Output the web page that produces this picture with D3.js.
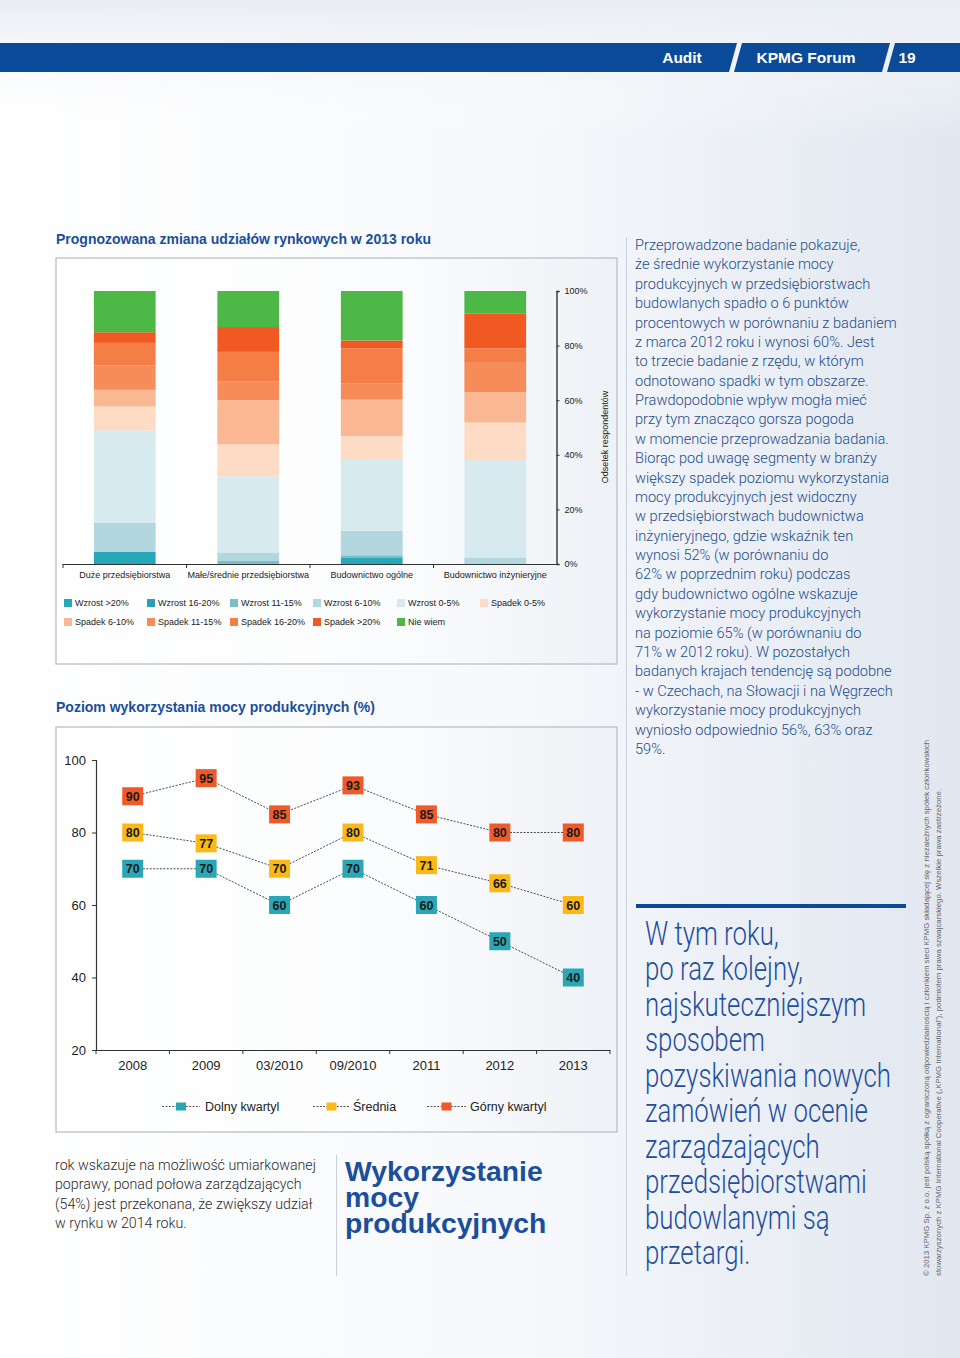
<!DOCTYPE html>
<html><head><meta charset="utf-8">
<script src="https://cdn.jsdelivr.net/npm/d3@7"></script>
<style>html,body{margin:0;padding:0;background:#fff}svg{display:block}</style>
</head><body>
<svg id="page" width="960" height="1358"></svg>
<script>
// ---------- DATA ----------
const barCategories = ["Duże przedsiębiorstwa","Małe/średnie przedsiębiorstwa","Budownictwo ogólne","Budownictwo inżynieryjne"];
const barKeys = ["Wzrost >20%","Wzrost 16-20%","Wzrost 11-15%","Wzrost 6-10%","Wzrost 0-5%","Spadek 0-5%","Spadek 6-10%","Spadek 11-15%","Spadek 16-20%","Spadek >20%","Nie wiem"];
const barLegendLabels = ["Wzrost >20%","Wzrost 16-20%","Wzrost 11-15%","Wzrost 6-10%","Wzrost 0-5%","Spadek 0-5%","Spadek 6-10%","Spadek 11-15%","Spadek 16-20%","Spadek >20%","Nie wiem"];
const wzrost20   = [4.4, 0,    2.2, 0];
const wzrost1620 = [0,   0,    0,   0];
const wzrost1115 = [0,   1.3,  1.0, 0];
const wzrost610  = [10.8,2.9,  9.0, 2.4];
const wzrost05   = [33.7,27.9, 25.9,35.6];
const spadek05   = [8.8, 11.7, 8.8, 13.8];
const spadek610  = [6.1, 16.2, 13.3,11.2];
const spadek1115 = [8.9, 6.8,  6.0, 11.0];
const spadek1620 = [8.3, 10.9, 12.8,5.0];
const spadek20   = [3.9, 9.1,  2.9, 12.8];
const nieWiem    = [15.1,13.2, 18.1,8.2];
const barSeries = [wzrost20,wzrost1620,wzrost1115,wzrost610,wzrost05,spadek05,spadek610,spadek1115,spadek1620,spadek20,nieWiem];
const barColors = ["#27a7b8","#2c9fb6","#7dbdcb","#b2d7de","#d7eaef","#fddbc5","#f9b893","#f58c59","#f47e45","#f05a22","#4db848"];
const pctTicks = [0,20,40,60,80,100];

const years = ["2008","2009","03/2010","09/2010","2011","2012","2013"];
const gorny  = [90,95,85,93,85,80,80];
const srednia= [80,77,70,80,71,66,60];
const dolny  = [70,70,60,70,60,50,40];
const lineNames = ["Dolny kwartyl","Średnia","Górny kwartyl"];
const lineColors = ["#29a7b7","#fbb918","#f05a28"];
const yTicks = [20,40,60,80,100];

const bodyLines = ["Przeprowadzone badanie pokazuje,","że średnie wykorzystanie mocy","produkcyjnych w przedsiębiorstwach","budowlanych spadło o 6 punktów","procentowych w porównaniu z badaniem","z marca 2012 roku i wynosi 60%. Jest","to trzecie badanie z rzędu, w którym","odnotowano spadki w tym obszarze.","Prawdopodobnie wpływ mogła mieć","przy tym znacząco gorsza pogoda","w momencie przeprowadzania badania.","Biorąc pod uwagę segmenty w branży","większy spadek poziomu wykorzystania","mocy produkcyjnych jest widoczny","w przedsiębiorstwach budownictwa","inżynieryjnego, gdzie wskaźnik ten","wynosi 52% (w porównaniu do","62% w poprzednim roku) podczas","gdy budownictwo ogólne wskazuje","wykorzystanie mocy produkcyjnych","na poziomie 65% (w porównaniu do","71% w 2012 roku). W pozostałych","badanych krajach tendencję są podobne","- w Czechach, na Słowacji i na Węgrzech","wykorzystanie mocy produkcyjnych","wyniosło odpowiednio 56%, 63% oraz","59%."];
const quoteLines = ["W tym roku,","po raz kolejny,","najskuteczniejszym","sposobem","pozyskiwania nowych","zamówień w ocenie","zarządzających","przedsiębiorstwami","budowlanymi są","przetargi."];
const leftLines = ["rok wskazuje na możliwość umiarkowanej","poprawy, ponad połowa zarządzających","(54%) jest przekonana, że zwiększy udział","w rynku w 2014 roku."];
const headLines = ["Wykorzystanie","mocy","produkcyjnych"];
const copyLines = ["© 2013 KPMG Sp. z o.o. jest polską spółką z ograniczoną odpowiedzialnością i członkiem sieci KPMG składającej się z niezależnych spółek członkowskich","stowarzyszonych z KPMG International Cooperative („KPMG International”), podmiotem prawa szwajcarskiego. Wszelkie prawa zastrzeżone."];

// ---------- PAGE ----------
const svg = d3.select("#page");
const defs = svg.append("defs");
const pg = defs.append("linearGradient").attr("id","pg").attr("x1","0").attr("y1","0").attr("x2","1").attr("y2","0");
pg.append("stop").attr("offset","0").attr("stop-color","#ffffff");
pg.append("stop").attr("offset","0.55").attr("stop-color","#f6f8fb");
pg.append("stop").attr("offset","1").attr("stop-color","#e1e7f0");
const bg = defs.append("linearGradient").attr("id","bx").attr("x1","0").attr("y1","0").attr("x2","1").attr("y2","0");
bg.append("stop").attr("offset","0").attr("stop-color","#ffffff");
bg.append("stop").attr("offset","0.6").attr("stop-color","#fbfcfd");
bg.append("stop").attr("offset","1").attr("stop-color","#eef1f6");
const tg = defs.append("linearGradient").attr("id","tg").attr("x1","0").attr("y1","0").attr("x2","0").attr("y2","1");
tg.append("stop").attr("offset","0").attr("stop-color","#e9edf4").attr("stop-opacity",1);
tg.append("stop").attr("offset","1").attr("stop-color","#ffffff").attr("stop-opacity",0);

svg.append("rect").attr("width",960).attr("height",1358).attr("fill","url(#pg)");
svg.append("rect").attr("width",960).attr("height",140).attr("fill","url(#tg)");

// header band
const hb = "#0b4a98";
svg.append("path").attr("d","M0,43 L737,43 L729,72 L0,72 Z").attr("fill",hb);
svg.append("path").attr("d","M742,43 L890,43 L882,72 L734,72 Z").attr("fill",hb);
svg.append("path").attr("d","M895,43 L960,43 L960,72 L887,72 Z").attr("fill",hb);
const hf = "'Liberation Sans',Arial,sans-serif";
svg.append("text").attr("x",682).attr("y",63).attr("text-anchor","middle").attr("fill","#fff").attr("font-family",hf).attr("font-weight","bold").attr("font-size",15.5).text("Audit");
svg.append("text").attr("x",806).attr("y",63).attr("text-anchor","middle").attr("fill","#fff").attr("font-family",hf).attr("font-weight","bold").attr("font-size",15.5).text("KPMG Forum");
svg.append("text").attr("x",907).attr("y",63).attr("text-anchor","middle").attr("fill","#fff").attr("font-family",hf).attr("font-weight","bold").attr("font-size",15.5).text("19");

const titleBlue = "#1b4f9b";
const cf = "'Liberation Sans',Arial,Helvetica,sans-serif";
svg.append("text").attr("x",56).attr("y",244).attr("fill",titleBlue).attr("font-family",cf).attr("font-weight","bold").attr("font-size",14).text("Prognozowana zmiana udziałów rynkowych w 2013 roku");
svg.append("text").attr("x",56).attr("y",712).attr("fill",titleBlue).attr("font-family",cf).attr("font-weight","bold").attr("font-size",14).text("Poziom wykorzystania mocy produkcyjnych (%)");

// ---------- STACKED BAR CHART ----------
svg.append("rect").attr("x",56).attr("y",258).attr("width",561).attr("height",406).attr("fill","url(#bx)").attr("stroke","#bdbfc3").attr("stroke-width",1.3);

const xb = d3.scaleBand().domain(barCategories).range([63,557]).paddingInner(0.5).paddingOuter(0.25);
const yb = d3.scaleLinear().domain([0,100]).range([564,291]);
const table = barCategories.map((c,i)=>{const o={cat:c}; barKeys.forEach((k,j)=>o[k]=barSeries[j][i]); return o;});
const stacked = d3.stack().keys(barKeys)(table);
const gb = svg.append("g");
stacked.forEach((s,j)=>{
  gb.selectAll(null).data(s).enter().append("rect")
    .attr("x",d=>xb(d.data.cat)).attr("width",xb.bandwidth())
    .attr("y",d=>yb(d[1])).attr("height",d=>Math.max(0,yb(d[0])-yb(d[1])))
    .attr("fill",barColors[j]);
});
const step = xb.step();
const x0 = xb.range()[0];
gb.append("line").attr("x1",x0).attr("x2",xb.range()[1]).attr("y1",564.5).attr("y2",564.5).attr("stroke","#333").attr("stroke-width",1.2);
d3.range(barCategories.length).forEach(i=>{
  gb.append("line").attr("x1",x0+i*step).attr("x2",x0+i*step).attr("y1",564).attr("y2",568).attr("stroke","#333").attr("stroke-width",1);
});
barCategories.forEach(c=>{
  gb.append("text").attr("x",xb(c)+xb.bandwidth()/2).attr("y",578).attr("text-anchor","middle").attr("font-family",cf).attr("font-size",9).attr("fill","#222").text(c);
});
const yAxisB = d3.axisRight(yb).tickValues(pctTicks).tickSize(3).tickPadding(5).tickFormat(d=>d+"%");
const ga = svg.append("g").attr("transform","translate(556.5,0)").call(yAxisB);
ga.select(".domain").attr("stroke","#333").attr("stroke-width",1.4);
ga.selectAll(".tick line").attr("stroke","#333");
ga.selectAll("text").attr("font-family",cf).attr("font-size",9).attr("fill","#222");
svg.append("text").attr("transform","translate(608,437) rotate(-90)").attr("text-anchor","middle").attr("font-family",cf).attr("font-size",9).attr("fill","#222").text("Odsetek respondentów");

const legX = [64,147,230,313,397,480];
barLegendLabels.forEach((l,i)=>{
  const row = i<6?0:1, col = i<6?i:i-6;
  const lx = legX[col], ly = row===0?603:622;
  svg.append("rect").attr("x",lx).attr("y",ly-4).attr("width",8).attr("height",8).attr("fill",barColors[i]);
  svg.append("text").attr("x",lx+11).attr("y",ly+3.3).attr("font-family",cf).attr("font-size",9).attr("fill","#222").text(l);
});

// ---------- LINE CHART ----------
svg.append("rect").attr("x",56).attr("y",727).attr("width",561).attr("height",405).attr("fill","url(#bx)").attr("stroke","#bdbfc3").attr("stroke-width",1.3);
const xl = d3.scaleBand().domain(years).range([96,610]);
const yl = d3.scaleLinear().domain([20,100]).range([1050,760]);
const gl = svg.append("g");
const yAxisL = d3.axisLeft(yl).tickValues(yTicks).tickSize(4).tickPadding(6);
const gy = gl.append("g").attr("transform","translate(96,0)").call(yAxisL);
gy.select(".domain").attr("stroke","#333").attr("stroke-width",1.2).attr("d","M-4,760.5H0.5V1050.5");
gy.selectAll(".tick line").attr("stroke","#333");
gy.selectAll("text").attr("font-family",cf).attr("font-size",13).attr("fill","#222");
gl.append("line").attr("x1",96).attr("x2",610).attr("y1",1050.5).attr("y2",1050.5).attr("stroke","#333").attr("stroke-width",1.2);
d3.range(years.length+1).forEach(i=>{
  const tx = xl.range()[0]+i*xl.step();
  gl.append("line").attr("x1",tx).attr("x2",tx).attr("y1",1050).attr("y2",1054).attr("stroke","#333");
});
years.forEach(y=>{
  gl.append("text").attr("x",xl(y)+xl.bandwidth()/2).attr("y",1070).attr("text-anchor","middle").attr("font-family",cf).attr("font-size",13).attr("fill","#222").text(y);
});
const lineSeries = [dolny,srednia,gorny];
const lineGen = d3.line().x((d,i)=>xl(years[i])+xl.bandwidth()/2).y(d=>yl(d));
lineSeries.forEach((s,k)=>{
  gl.append("path").attr("d",lineGen(s)).attr("fill","none").attr("stroke","#3a3a3a").attr("stroke-width",0.9).attr("stroke-dasharray","2,1.4");
});
lineSeries.forEach((s,k)=>{
  s.forEach((v,i)=>{
    const cx = xl(years[i])+xl.bandwidth()/2, cy = yl(v);
    gl.append("rect").attr("x",cx-10.5).attr("y",cy-9).attr("width",21).attr("height",18).attr("fill",lineColors[k]);
    gl.append("text").attr("x",cx).attr("y",cy+4.5).attr("text-anchor","middle").attr("font-family",cf).attr("font-weight","bold").attr("font-size",12.5).attr("fill","#1a1a1a").text(v);
  });
});
const lleg = [[162,200,205],[313,350,353],[427,466,470]];
lineNames.forEach((n,k)=>{
  const [a,b,t] = lleg[k], yy = 1106.5, m=(a+b)/2;
  svg.append("line").attr("x1",a).attr("x2",b).attr("y1",yy).attr("y2",yy).attr("stroke","#444").attr("stroke-width",0.9).attr("stroke-dasharray","2,1.4");
  svg.append("rect").attr("x",m-5).attr("y",yy-4).attr("width",10).attr("height",8).attr("fill",lineColors[k]);
  svg.append("text").attr("x",t).attr("y",yy+4.5).attr("font-family",cf).attr("font-size",12.5).attr("fill","#222").text(n);
});

// ---------- TEXT BLOCKS ----------
const bf = "Roboto,'Open Sans',sans-serif";
svg.append("line").attr("x1",626.5).attr("x2",626.5).attr("y1",237).attr("y2",1276).attr("stroke","#c9d0dc").attr("stroke-width",1);
svg.append("line").attr("x1",336.5).attr("x2",336.5).attr("y1",1155).attr("y2",1276).attr("stroke","#c9d0dc").attr("stroke-width",1);
bodyLines.forEach((l,i)=>{
  svg.append("text").attr("x",635).attr("y",250+i*19.38).attr("font-family",bf).attr("font-weight",300).attr("font-size",14.6).attr("fill","#1f4d8c").text(l);
});
svg.append("rect").attr("x",636).attr("y",904).attr("width",270).attr("height",4).attr("fill","#0b4a98");
const qg = svg.append("g");
const qt = qg.append("text").attr("font-family","Roboto,'Open Sans',sans-serif").attr("font-weight",300).attr("font-size",33).attr("fill","#1f4f9c");
quoteLines.forEach((l,i)=>{
  qt.append("tspan").attr("x",0).attr("y",i*35.5).text(l);
});
const probe = qg.append("text").attr("font-family","Roboto,'Open Sans',sans-serif").attr("font-weight",300).attr("font-size",33).text(quoteLines[4]);
const pw = probe.node().getComputedTextLength();
probe.remove();
const sx = 246/pw;
qg.attr("transform",`translate(645,945) scale(${sx},1)`);

const lt = svg.append("text").attr("font-family",bf).attr("font-weight",300).attr("font-size",14.2).attr("fill","#2b2b2b");
leftLines.forEach((l,i)=>{
  lt.append("tspan").attr("x",55).attr("y",1170+i*19.4).text(l);
});
const ht = svg.append("text").attr("font-family",cf).attr("font-weight","bold").attr("font-size",28.3).attr("fill","#1b4f9b");
headLines.forEach((l,i)=>{
  ht.append("tspan").attr("x",345).attr("y",1181+i*26).text(l);
});
copyLines.forEach((l,i)=>{
  svg.append("text").attr("transform",`translate(${929+i*12},1276) rotate(-90)`).attr("font-family",cf).attr("font-size",7.8).attr("fill","#666").text(l);
});
</script>
</body></html>
